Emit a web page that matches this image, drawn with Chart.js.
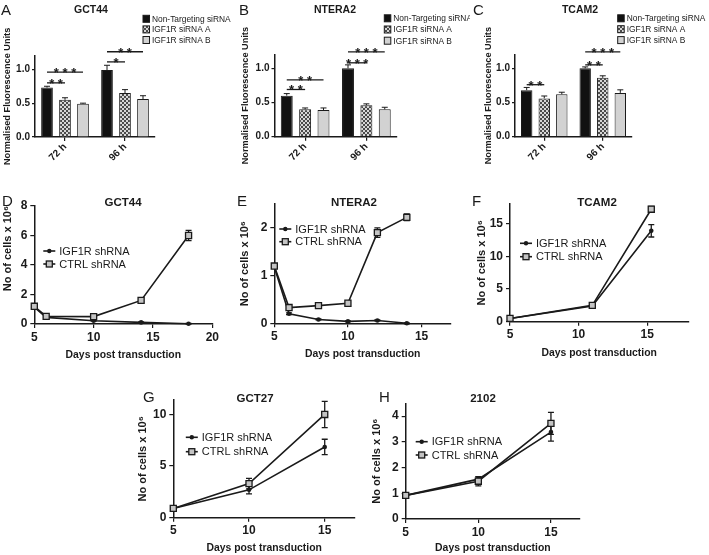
<!DOCTYPE html>
<html>
<head>
<meta charset="utf-8">
<script src="https://cdn.jsdelivr.net/npm/chart.js@4.4.1/dist/chart.umd.min.js"></script>
<style>
  body { margin: 0; background: #fff; width: 709px; height: 555px; position: relative; overflow: hidden;
         font-family: "Liberation Sans", Arial, sans-serif; color: #1a1a1a; }
  canvas { position: absolute; }
  .letter { position: absolute; font-size: 15px; line-height: 15px; }
  .ttl { position: absolute; font-weight: bold; white-space: nowrap; transform: translate(-50%, -50%); }
</style>
</head>
<body>
<script>
// ---- bar panels (A-C) ----
const barCats = ['72 h', '96 h'];
const barSeries = ['Non-Targeting siRNA', 'IGF1R siRNA A', 'IGF1R siRNA B'];

const gct44Nt = [0.73, 0.99];
const gct44A = [0.55, 0.65];
const gct44B = [0.49, 0.56];
const gct44NtErr = [0.02, 0.07];
const gct44AErr = [0.03, 0.05];
const gct44BErr = [0.01, 0.05];
// [category, from series, to series, height, stars]
const gct44Sig = [[0, 0, 1, 0.80, '**'], [0, 0, 2, 0.96, '***'], [1, 0, 1, 1.11, '*'], [1, 0, 2, 1.26, '**']];

const nteraNt = [0.60, 1.0];
const nteraA = [0.40, 0.46];
const nteraB = [0.39, 0.40];
const nteraNtErr = [0.03, 0.05];
const nteraAErr = [0.02, 0.02];
const nteraBErr = [0.03, 0.03];
const nteraSig = [[0, 0, 1, 0.69, '**'], [0, 0, 2, 0.83, '**'], [1, 0, 1, 1.08, '***'], [1, 0, 2, 1.24, '***']];

const tcamNt = [0.68, 1.0];
const tcamA = [0.56, 0.86];
const tcamB = [0.62, 0.64];
const tcamNtErr = [0.04, 0.02];
const tcamAErr = [0.035, 0.03];
const tcamBErr = [0.03, 0.045];
const tcamSig = [[0, 0, 1, 0.76, '**'], [1, 0, 1, 1.05, '**'], [1, 0, 2, 1.24, '***']];

// ---- growth panels (D-H) ----
const gct44Days = [5, 6, 10, 14, 18];
const gct44Igf = [1.15, 0.45, 0.22, 0.11, 0.02];
const gct44IgfErr = [0.05, 0.05, 0.03, 0.03, 0.02];
const gct44Ctrl = [1.2, 0.52, 0.5, 1.6, 6.0];
const gct44CtrlErr = [0.05, 0.05, 0.1, 0.1, 0.35];

const nteraDays = [5, 6, 8, 10, 12, 14];
const nteraIgf = [1.18, 0.2, 0.08, 0.04, 0.06, 0.0];
const nteraIgfErr = [0.02, 0.02, 0.01, 0.01, 0.01, 0.01];
const nteraCtrl = [1.2, 0.33, 0.37, 0.42, 1.9, 2.22];
const nteraCtrlErr = [0.03, 0.03, 0.03, 0.03, 0.1, 0.07];

const tcamDays = [5, 11, 15.3];
const tcamIgf = [0.5, 2.4, 13.9];
const tcamIgfErr = [0.1, 0.2, 0.95];
const tcamCtrl = [0.5, 2.5, 17.2];
const tcamCtrlErr = [0.1, 0.2, 0.45];

const gct27Days = [5, 10, 15];
const gct27Igf = [0.9, 2.7, 6.85];
const gct27IgfErr = [0.05, 0.4, 0.75];
const gct27Ctrl = [0.9, 3.3, 10.0];
const gct27CtrlErr = [0.05, 0.5, 1.27];

const c2102Days = [5, 10, 15];
const c2102Igf = [0.92, 1.55, 3.38];
const c2102IgfErr = [0.03, 0.08, 0.35];
const c2102Ctrl = [0.92, 1.47, 3.72];
const c2102CtrlErr = [0.03, 0.18, 0.43];

const AXIS = '#1a1a1a';
const FONT = '"Liberation Sans", Arial, sans-serif';
Chart.defaults.font.family = FONT;
Chart.defaults.color = AXIS;

// checkered fill for siRNA A
function checker() {
  const c = document.createElement('canvas');
  c.width = 4; c.height = 4;
  const g = c.getContext('2d');
  g.fillStyle = '#d6d6d6'; g.fillRect(0, 0, 4, 4);
  g.fillStyle = '#4a4a4a'; g.fillRect(0, 0, 2, 2); g.fillRect(2, 2, 2, 2);
  return g.createPattern(c, 'repeat');
}
const barFills = ['#111111', checker(), '#d2d2d2'];

function makeCanvas(box) {
  const c = document.createElement('canvas');
  c.width = box[2]; c.height = box[3];
  c.style.left = box[0] + 'px'; c.style.top = box[1] + 'px';
  c.style.width = box[2] + 'px'; c.style.height = box[3] + 'px';
  document.body.appendChild(c);
  return c;
}

function addText(txt, x, y, cls, size) {
  const d = document.createElement('div');
  d.className = cls;
  d.textContent = txt;
  d.style.left = x + 'px'; d.style.top = y + 'px';
  if (size) d.style.fontSize = size + 'px';
  document.body.appendChild(d);
}

// pin the plot area where it sits in the picture
function fixLayout(p) {
  const [bl, bt, bw, bh] = p.box;
  const [al, ar, at, ab] = p.area;
  return {
    padding: { left: 0, top: at - bt, right: bl + bw - ar, bottom: 0 },
    yWidth: al - bl,
    xHeight: bt + bh - ab
  };
}
function fitTo(size, dim) {
  return s => {
    s[dim] = size;
    s.paddingLeft = s.paddingRight = s.paddingTop = s.paddingBottom = 0;
  };
}

function errorPlugin(upOnly, cap, width, before) {
  const draw = chart => {
    const ctx = chart.ctx, y = chart.scales.y;
    ctx.save();
    ctx.strokeStyle = AXIS; ctx.lineWidth = width;
    chart.data.datasets.forEach((ds, i) => {
      if (!ds.errors) return;
      chart.getDatasetMeta(i).data.forEach((el, j) => {
        const v = typeof ds.data[j] === 'object' ? ds.data[j].y : ds.data[j];
        const e = ds.errors[j];
        const top = y.getPixelForValue(v + e);
        const bot = upOnly ? el.y : y.getPixelForValue(v - e);
        ctx.beginPath();
        ctx.moveTo(el.x, bot); ctx.lineTo(el.x, top);
        ctx.moveTo(el.x - cap, top); ctx.lineTo(el.x + cap, top);
        if (!upOnly) { ctx.moveTo(el.x - cap, bot); ctx.lineTo(el.x + cap, bot); }
        ctx.stroke();
      });
    });
    ctx.restore();
  };
  return before ? { id: 'errBars', beforeDatasetsDraw: draw } : { id: 'errBars', afterDatasetsDraw: draw };
}

function sigPlugin(items) {
  return {
    id: 'sigBars',
    afterDatasetsDraw(chart) {
      const ctx = chart.ctx, y = chart.scales.y;
      ctx.save();
      ctx.strokeStyle = AXIS; ctx.fillStyle = AXIS; ctx.lineWidth = 1.3;
      ctx.font = 'bold 13px ' + FONT; ctx.textAlign = 'center'; ctx.textBaseline = 'alphabetic';
      items.forEach(([cat, from, to, val, stars]) => {
        const x1 = chart.getDatasetMeta(from).data[cat].x;
        const x2 = chart.getDatasetMeta(to).data[cat].x;
        const py = y.getPixelForValue(val);
        ctx.beginPath(); ctx.moveTo(x1, py); ctx.lineTo(x2, py); ctx.stroke();
        ctx.fillText(stars.split('').join(' '), (x1 + x2) / 2, py + 5);
      });
      ctx.restore();
    }
  };
}

function boxLegend(dx, dy, gap) {
  return {
    id: 'boxLegend',
    afterDraw(chart) {
      const { ctx, chartArea } = chart;
      ctx.save();
      ctx.font = '8.4px ' + FONT; ctx.textBaseline = 'middle';
      chart.data.datasets.forEach((ds, i) => {
        const x = chartArea.right + dx, yc = chartArea.top + dy + i * gap;
        ctx.fillStyle = ds.backgroundColor;
        ctx.fillRect(x, yc - 3.5, 6.5, 7);
        ctx.strokeStyle = AXIS; ctx.lineWidth = 1;
        ctx.strokeRect(x, yc - 3.5, 6.5, 7);
        ctx.fillStyle = AXIS;
        ctx.fillText(ds.label, x + 9, yc + 0.5);
      });
      ctx.restore();
    }
  };
}

function lineLegend(dx, dy, gap) {
  return {
    id: 'lineLegend',
    afterDraw(chart) {
      const { ctx, chartArea } = chart;
      ctx.save();
      ctx.font = '11px ' + FONT; ctx.textBaseline = 'middle';
      // IGF1R first, then CTRL
      [1, 0].forEach((di, row) => {
        const ds = chart.data.datasets[di];
        const x = chartArea.left + dx, yc = chartArea.top + dy + row * gap;
        ctx.strokeStyle = AXIS; ctx.lineWidth = 1.6;
        ctx.beginPath(); ctx.moveTo(x - 6, yc); ctx.lineTo(x + 6, yc); ctx.stroke();
        if (ds.pointStyle === 'rect') {
          ctx.fillStyle = ds.pointBackgroundColor; ctx.lineWidth = 1.3;
          ctx.fillRect(x - 3, yc - 3, 6, 6); ctx.strokeRect(x - 3, yc - 3, 6, 6);
        } else {
          ctx.fillStyle = AXIS;
          ctx.beginPath(); ctx.arc(x, yc, 2.2, 0, Math.PI * 2); ctx.fill();
        }
        ctx.fillStyle = AXIS;
        ctx.fillText(ds.label, x + 10, yc + 0.5);
      });
      ctx.restore();
    }
  };
}

function axisGrid() {
  return { display: true, drawOnChartArea: false, tickLength: 4, color: AXIS, lineWidth: 1.2 };
}

function barChart(p) {
  const L = fixLayout(p);
  const datasets = barSeries.map((name, i) => ({
    label: name, data: p.values[i], errors: p.errors[i],
    backgroundColor: barFills[i], borderColor: AXIS, borderWidth: 1,
    categoryPercentage: 0.9, barPercentage: 0.65
  }));
  const ttlSize = 9.2;
  new Chart(makeCanvas(p.box), {
    type: 'bar',
    data: { labels: barCats, datasets },
    options: {
      responsive: false, animation: false,
      layout: { padding: L.padding },
      plugins: { legend: { display: false }, tooltip: { enabled: false } },
      scales: {
        x: {
          offset: true,
          grid: { ...axisGrid(), offset: false },
          border: { color: AXIS, width: 1.5 },
          ticks: { minRotation: 45, maxRotation: 45, padding: 0, font: { size: 10, weight: 'bold' } },
          afterFit: fitTo(L.xHeight, 'height')
        },
        y: {
          min: 0, max: 1.2,
          ticks: { stepSize: 0.5, includeBounds: false, padding: 2, font: { size: 10, weight: 'bold' },
                   callback: v => v.toFixed(1) },
          grid: { ...axisGrid(), tickLength: 3 },
          border: { color: AXIS, width: 1.5 },
          title: { display: true, text: 'Normalised Fluorescence Units', font: { size: ttlSize, weight: 'bold' },
                   padding: { top: p.yTitleX - p.box[0] - ttlSize * 0.6, bottom: 0 } },
          afterFit: fitTo(L.yWidth, 'width')
        }
      }
    },
    plugins: [errorPlugin(true, 3, 1, false), sigPlugin(p.sig), boxLegend(p.legend[0], p.legend[1], p.legend[2])]
  });
  addText(p.letter, p.letterAt[0], p.letterAt[1], 'letter');
  addText(p.title, p.titleAt[0], p.titleAt[1], 'ttl', 10.5);
}

function lineChart(p) {
  const L = fixLayout(p);
  const mk = arr => p.days.map((d, i) => ({ x: d, y: arr[i] }));
  const datasets = [
    { label: 'CTRL shRNA', data: mk(p.ctrl), errors: p.ctrlErr, order: 0,
      borderColor: AXIS, borderWidth: 1.6, tension: 0, clip: false,
      pointStyle: 'rect', pointRadius: 4.3, pointBackgroundColor: '#c4c4c4',
      pointBorderColor: AXIS, pointBorderWidth: 1.3 },
    { label: 'IGF1R shRNA', data: mk(p.igf), errors: p.igfErr, order: 1,
      borderColor: AXIS, borderWidth: 1.6, tension: 0, clip: false,
      pointStyle: 'circle', pointRadius: 2.3, pointBackgroundColor: AXIS,
      pointBorderColor: AXIS, pointBorderWidth: 0 }
  ];
  const yT = 11, xT = 10.4;
  new Chart(makeCanvas(p.box), {
    type: 'line',
    data: { datasets },
    options: {
      responsive: false, animation: false,
      layout: { padding: L.padding },
      plugins: { legend: { display: false }, tooltip: { enabled: false } },
      scales: {
        x: {
          type: 'linear', min: 5, max: p.xMax,
          ticks: { stepSize: 5, includeBounds: false, maxRotation: 0, padding: 2, font: { size: 12, weight: 'bold' } },
          grid: axisGrid(),
          border: { color: AXIS, width: 1.5 },
          title: { display: true, text: 'Days post transduction', font: { size: xT, weight: 'bold' },
                   padding: { top: 0, bottom: p.box[1] + p.box[3] - p.xTitleY - xT * 0.6 } },
          afterFit: fitTo(L.xHeight, 'height')
        },
        y: {
          min: 0, max: p.yMax,
          ticks: { stepSize: p.yStep, includeBounds: false, padding: 3, font: { size: 12, weight: 'bold' } },
          grid: axisGrid(),
          border: { color: AXIS, width: 1.5 },
          title: { display: true, text: 'No of cells x 10⁶', align: p.yAlign || 'center',
                   font: { size: yT, weight: 'bold' },
                   padding: { top: p.yTitleX - p.box[0] - yT * 0.6, bottom: 0 } },
          afterFit: fitTo(L.yWidth, 'width')
        }
      }
    },
    plugins: [errorPlugin(false, 3, 1.3, true), lineLegend(p.legend[0], p.legend[1], p.legend[2])]
  });
  addText(p.letter, p.letterAt[0], p.letterAt[1], 'letter');
  addText(p.title, p.titleAt[0], p.titleAt[1], 'ttl', 11.5);
}

barChart({ letter: 'A', letterAt: [1, 2], title: 'GCT44', titleAt: [91, 9],
  box: [0, 0, 235, 185], area: [35, 155, 55.8, 137], yTitleX: 7.5,
  values: [gct44Nt, gct44A, gct44B], errors: [gct44NtErr, gct44AErr, gct44BErr],
  sig: gct44Sig, legend: [-12, -37, 10.6] });

barChart({ letter: 'B', letterAt: [239, 2], title: 'NTERA2', titleAt: [335, 9],
  box: [235, 0, 235, 185], area: [274.5, 397, 54.6, 136.7], yTitleX: 245,
  values: [nteraNt, nteraA, nteraB], errors: [nteraNtErr, nteraAErr, nteraBErr],
  sig: nteraSig, legend: [-12.7, -36.3, 11.2] });

barChart({ letter: 'C', letterAt: [473, 2], title: 'TCAM2', titleAt: [580, 9],
  box: [470, 0, 239, 185], area: [515, 632, 54.6, 136.7], yTitleX: 488,
  values: [tcamNt, tcamA, tcamB], errors: [tcamNtErr, tcamAErr, tcamBErr],
  sig: tcamSig, legend: [-14.3, -36.3, 10.9] });

lineChart({ letter: 'D', letterAt: [2, 193], title: 'GCT44', titleAt: [123, 202],
  box: [0, 190, 235, 180], area: [34.3, 212.3, 206, 324], xMax: 20, yMax: 8, yStep: 2,
  yTitleX: 7.5, xTitleY: 355, yAlign: 'end',
  days: gct44Days, igf: gct44Igf, igfErr: gct44IgfErr, ctrl: gct44Ctrl, ctrlErr: gct44CtrlErr,
  legend: [15, 45, 13] });

lineChart({ letter: 'E', letterAt: [237, 193], title: 'NTERA2', titleAt: [354, 202],
  box: [235, 190, 235, 180], area: [274.3, 451, 204, 323.3], xMax: 17, yMax: 2.5, yStep: 1,
  yTitleX: 245, xTitleY: 354,
  days: nteraDays, igf: nteraIgf, igfErr: nteraIgfErr, ctrl: nteraCtrl, ctrlErr: nteraCtrlErr,
  legend: [11, 25, 12.7] });

lineChart({ letter: 'F', letterAt: [472, 193], title: 'TCAM2', titleAt: [597, 202],
  box: [470, 190, 239, 180], area: [510, 688.3, 204, 321.7], xMax: 18, yMax: 18, yStep: 5,
  yTitleX: 482, xTitleY: 353,
  days: tcamDays, igf: tcamIgf, igfErr: tcamIgfErr, ctrl: tcamCtrl, ctrlErr: tcamCtrlErr,
  legend: [16, 39.3, 13.4] });

lineChart({ letter: 'G', letterAt: [143, 389], title: 'GCT27', titleAt: [255, 398],
  box: [130, 378, 235, 177], area: [173.3, 355, 400, 517.7], xMax: 17, yMax: 11.4, yStep: 5,
  yTitleX: 143, xTitleY: 548,
  days: gct27Days, igf: gct27Igf, igfErr: gct27IgfErr, ctrl: gct27Ctrl, ctrlErr: gct27CtrlErr,
  legend: [18.5, 37.3, 14.4] });

lineChart({ letter: 'H', letterAt: [379, 389], title: '2102', titleAt: [483, 398],
  box: [365, 378, 235, 177], area: [405.7, 580, 403.3, 519], xMax: 17, yMax: 4.5, yStep: 1,
  yTitleX: 377, xTitleY: 548,
  days: c2102Days, igf: c2102Igf, igfErr: c2102IgfErr, ctrl: c2102Ctrl, ctrlErr: c2102CtrlErr,
  legend: [16, 38.4, 13.3] });
</script>
</body>
</html>
